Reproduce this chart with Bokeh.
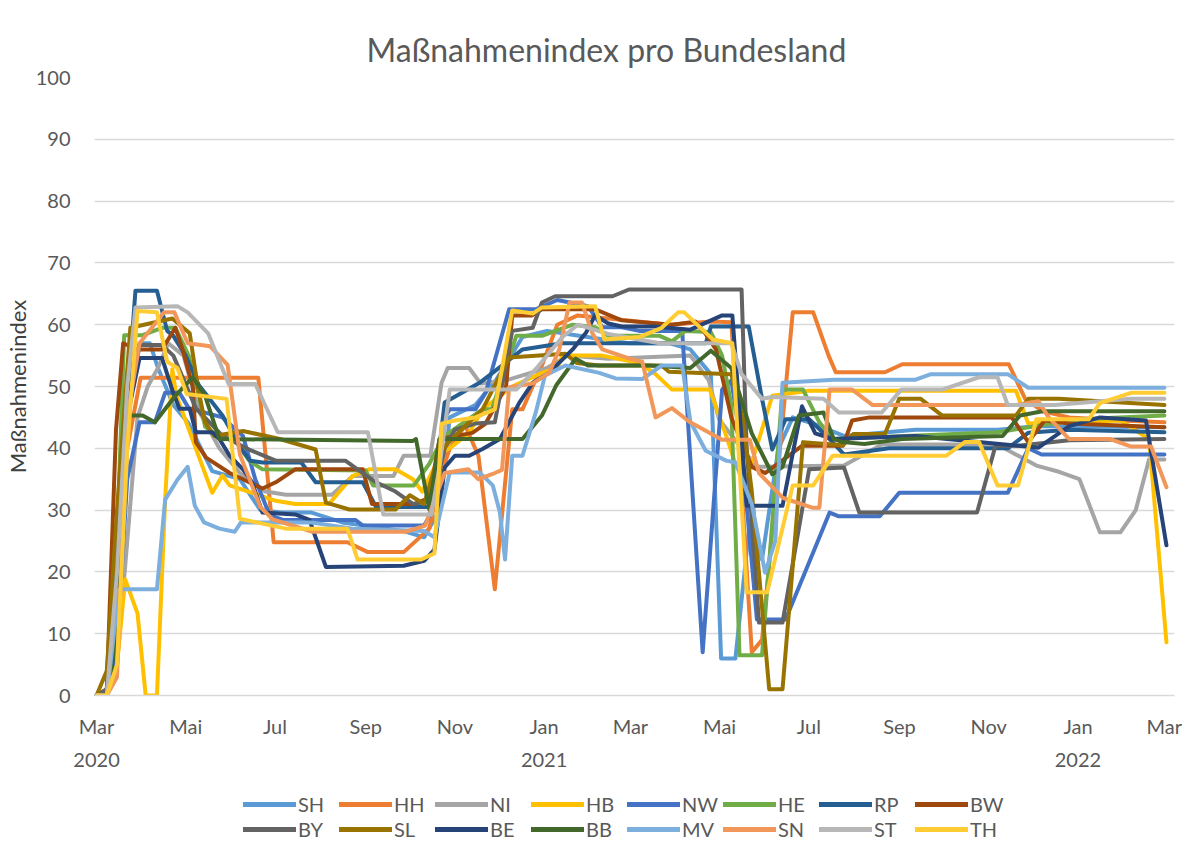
import numpy as np
import pandas as pd
from bokeh.plotting import figure
from bokeh.layouts import column
from bokeh.models import (Legend, LegendItem, FixedTicker, CustomJSTickFormatter,
                          Range1d, ColumnDataSource)
from bokeh.embed import file_html
from bokeh.resources import INLINE

# ---------------- data (week number since 2020-03-01, index value) ----------------
START = pd.Timestamp("2020-03-01")

names = ["SH", "HH", "NI", "HB", "NW", "HE", "RP", "BW",
         "BY", "SL", "BE", "BB", "MV", "SN", "ST", "TH"]
colors = ["#5B9BD5", "#ED7D31", "#A5A5A5", "#FFC000", "#4472C4", "#70AD47", "#255E91", "#9E480E",
          "#636363", "#997300", "#264478", "#43682B", "#7CAFDD", "#F1975A", "#B7B7B7", "#FFCD33"]

SH_w = [0, 1, 2, 3, 4.2, 5.2, 6, 7.5, 9, 11.3, 14, 16, 18, 21, 24, 30, 32, 33.5, 34.5, 37, 39, 41.6, 44, 46, 52, 56, 58, 60, 61, 62.4, 63.8, 65, 66.6, 68, 70, 73, 80, 88, 92, 104.3]
SH_v = [0, 0, 20, 50, 57, 57, 53, 47, 44, 36.3, 35, 30, 29.6, 29.6, 28, 26.6, 25.6, 30, 45, 47, 51, 58, 59, 58.5, 57, 57, 56, 52, 6, 6, 28, 22, 40, 45, 44, 42, 43, 43, 43.6, 43.4]

HH_w = [0, 1, 2, 3, 4.3, 15.8, 17.3, 24.5, 26.5, 30, 32.5, 33.5, 34.5, 36, 37.3, 38.9, 40.6, 41.6, 43.5, 45, 47, 50, 56, 60, 62, 64, 65, 68, 70, 71.5, 72.2, 77, 78.7, 89.1, 90.7, 92.4, 95, 100, 104.3]
HH_v = [0, 0, 10, 40, 51.4, 51.4, 24.8, 24.8, 23.2, 23.2, 27, 35, 40, 43.7, 38.8, 17.2, 46.3, 46.3, 53.4, 60, 61.5, 61, 60, 60.5, 60.4, 7, 9, 62, 62, 55, 52.3, 52.3, 53.6, 53.6, 48, 46, 45, 44.5, 44.2]

NI_w = [0, 1, 2, 3, 4, 5, 6, 7, 8.5, 10, 12, 14, 16.5, 18.5, 23, 25, 29, 30, 32.6, 33.7, 34.3, 36.4, 37.5, 40, 42, 44, 46, 50, 58, 59.8, 60.8, 63, 64.5, 73, 76.7, 88, 91.8, 94, 96, 98, 100, 101.5, 102.8, 104.3]
NI_v = [0, 0, 5, 25, 45, 50, 53, 57, 55, 46, 40, 36, 33, 32.5, 32.5, 35.5, 35.5, 38.8, 38.8, 50.6, 53, 53, 50.5, 51, 52, 53, 55, 54.5, 55, 51, 44.7, 40, 37, 37.2, 40.6, 40.6, 37.2, 36.2, 35, 26.4, 26.4, 30, 38.2, 38.2]

HB_w = [0, 1, 2, 2.8, 4, 4.8, 5.9, 6.7, 7.4, 7.8, 11.3, 12.3, 13, 17.5, 19.4, 22.7, 25, 26.6, 29.2, 30.9, 31.8, 33.8, 34.5, 36.4, 37.7, 40.6, 43.5, 45, 45.5, 49.4, 53, 54.6, 56.2, 59.9, 61.5, 62.5, 63.5, 66, 69.6, 89.8, 91, 100, 102.8, 104.5]
HB_v = [0, 0, 5, 18.8, 13.3, 0, 0, 31.7, 52.8, 48.5, 32.8, 35.6, 34, 31.5, 31, 31, 35.5, 36.6, 36.6, 35, 33, 39.5, 40, 42.5, 46.3, 50, 52.2, 53, 55, 55, 53.8, 52, 49.5, 49.5, 42, 37, 35, 48.5, 49.3, 49.3, 44, 44.5, 41.5, 8.6]

NW_w = [0, 1, 2, 3, 4.2, 5.7, 6.7, 8.1, 9, 12.3, 14.3, 15.5, 16.9, 18.2, 25.3, 26, 32, 32.5, 34, 34.5, 37, 38, 40.3, 42.9, 45, 48, 49.4, 51.3, 53, 57.2, 59.2, 61.1, 62, 63, 64.5, 67.3, 71.6, 72.5, 76.5, 78.4, 89, 91, 92.3, 104.3]
NW_v = [0, 0, 8, 35, 44.2, 44.2, 49, 49, 46.5, 45, 42, 35, 29.2, 28.4, 28.4, 27.5, 27.5, 29, 45, 46.3, 46.3, 49, 62.5, 62.5, 64, 63, 59.6, 59.6, 59, 59, 7, 49.5, 51, 40, 12.3, 12.3, 29.6, 29, 29, 32.8, 32.8, 40, 39, 39]

HE_w = [0, 1, 2, 2.7, 4.5, 6.4, 7.7, 9, 10, 10.6, 12, 13.3, 14.9, 16.2, 26.3, 27, 31, 32.5, 33.1, 34, 37.7, 38.6, 41, 43.5, 46.5, 48.7, 50, 55, 56.2, 57.5, 60, 61.1, 62, 62.8, 65, 67, 69, 70.6, 71.9, 79, 88, 96, 104.3]
HE_v = [0, 0, 25, 58.3, 58.3, 59.5, 59.5, 55, 48.5, 43.5, 41.8, 41.8, 38, 36.6, 36.4, 34, 34, 37.5, 39.4, 42, 46.3, 46.3, 58.2, 58.2, 60, 59.6, 58.2, 58.2, 57.3, 59, 58.8, 55, 47, 6.5, 6.5, 49.5, 49.5, 44.2, 41.5, 42, 42.6, 44.7, 45.3]

RP_w = [0, 1, 2, 3.8, 5.9, 6.9, 7.5, 8.7, 10, 12.3, 14.1, 15, 16.2, 20, 21.4, 26, 27.3, 32.8, 34, 37.5, 38.9, 41.6, 45.5, 59.5, 60, 63.7, 65, 66, 67.3, 69.6, 71.6, 73, 77.4, 89, 91, 95, 104.3]
RP_v = [0, 0, 25, 65.5, 65.5, 59, 58.2, 55, 50.2, 45.3, 40, 38, 37.7, 37.7, 34.5, 34.5, 30.5, 30.5, 47.4, 50.7, 52.5, 56, 57, 57, 59.7, 59.7, 48, 39.8, 44.7, 44.7, 41.5, 39, 40, 40, 42.5, 43, 42.6]

BW_w = [0, 1, 1.9, 2.6, 4, 6.4, 7.7, 8.4, 9.4, 9.7, 10.7, 13, 14.3, 16.2, 17.5, 19.4, 26, 26.9, 31.1, 32.5, 33.5, 36.7, 38, 40, 40.6, 42.5, 43.5, 48.7, 51.3, 56.2, 58.5, 59.4, 60.5, 62, 64, 65.3, 68.9, 72.9, 73.8, 75.5, 89.4, 91, 92.6, 95, 104.3]
BW_v = [0, 1, 43, 57, 56, 56, 59.5, 56, 50, 41, 38.5, 36, 35, 33.5, 34.5, 36.6, 36.6, 31, 31, 32, 41.5, 42.5, 44, 50, 61.5, 61.5, 62.5, 62.5, 60.7, 60, 60.5, 58.7, 56, 45, 37, 36, 40.4, 40.4, 44.5, 45, 45, 41, 44.5, 44, 43.4]

BY_w = [0, 1, 2, 3, 4.2, 6.4, 7.5, 9.7, 12.3, 14.9, 17.5, 24.3, 26, 27.3, 29.2, 30.9, 32.8, 34, 35, 37, 38.9, 40.6, 42.6, 43.5, 44.8, 50.4, 52, 63, 63.5, 64.7, 67, 69.6, 73, 74.5, 86, 87.8, 90, 95, 104.3]
BY_v = [0, 1, 15, 45, 56.7, 56.7, 55, 46.5, 42, 39.8, 38, 38, 36, 34.5, 33, 31, 31.5, 40, 43, 44, 44.2, 59, 59.5, 63.6, 64.6, 64.6, 65.7, 65.7, 40, 11.8, 11.8, 36.6, 36.9, 29.6, 29.6, 40.4, 40.4, 41.3, 41.5]

SL_w = [0, 1, 2, 3.3, 7.4, 9.1, 9.9, 10.6, 11.5, 14.3, 17.9, 21.4, 22.4, 24.7, 29.2, 30.6, 32, 33.5, 35, 37.7, 40.3, 45.8, 46.9, 49.1, 55.2, 55.9, 62, 63.1, 64, 65.7, 67, 69, 72.9, 73.9, 77, 78.4, 80.5, 82.6, 89.8, 91, 94, 98, 104.3]
SL_v = [0, 4, 30, 59.5, 61, 58.6, 49.8, 44.2, 42, 42.8, 41.5, 39.8, 31.2, 30.1, 30.1, 32.4, 31, 39.4, 42, 46.3, 54.7, 55.3, 53.8, 53.4, 53.4, 52.4, 52, 45, 33, 1, 1, 41, 40.5, 42.3, 42.3, 48, 48, 45.3, 45.3, 48, 48, 47.6, 47]

BE_w = [0, 1, 2, 3, 4.2, 6.4, 7.4, 8.1, 9.1, 9.7, 11.3, 12, 13, 14.3, 15.2, 16.2, 19.4, 20.8, 22.4, 30, 32, 33, 34, 35, 36.4, 37.7, 39.4, 41.3, 42.6, 44.2, 46.5, 47.8, 48.7, 50, 51.3, 54.5, 58, 61.1, 62.1, 63.5, 67, 68.9, 70.2, 71.9, 80, 92, 95, 98, 102.5, 104.5]
BE_v = [0, 0, 10, 45, 54.6, 54.6, 49.4, 46.4, 46.4, 42.6, 42.6, 41.5, 38.8, 36.6, 34.5, 29.6, 29.3, 28.4, 20.8, 21, 21.8, 23.6, 36.9, 38.8, 38.8, 39.9, 41.5, 47.4, 50.6, 52.2, 56, 58.7, 61.5, 60.2, 59.7, 59.7, 59.2, 61.5, 61.5, 30.7, 30.7, 46.8, 42.4, 41.5, 42, 40.1, 43.6, 45, 44.5, 24.3]

BB_w = [0, 1, 2, 2.8, 4.5, 5.7, 7.7, 9.4, 10.6, 12, 30.9, 31.2, 32.5, 33.5, 41.6, 43.5, 44.9, 46.8, 48, 54, 58, 60, 62, 64, 66, 67, 68.6, 71, 72, 72.9, 75, 78.7, 88.5, 90.2, 92.4, 104.3]
BB_v = [0, 0, 10, 45.3, 45.3, 44.2, 48.5, 51.5, 48.5, 41.5, 41.2, 41.5, 30.1, 41.5, 41.5, 45.3, 50.2, 54.5, 53.4, 53.4, 53, 55.8, 53, 42.4, 35.8, 37, 45.3, 45.8, 41.5, 41, 40.7, 41.5, 42, 45.3, 46, 46]

MV_w = [0, 1, 2.2, 5.9, 6.7, 7.9, 8.9, 9.6, 10.5, 12, 13.5, 14.1, 21, 25, 32, 33, 34.5, 37.4, 38.7, 39.4, 39.9, 40.6, 41.6, 42.9, 43.8, 45.8, 49.1, 50.7, 53.3, 55.2, 57.2, 58, 59.5, 61.5, 62.4, 64, 65.3, 66.3, 67, 72, 80, 81.5, 89, 91, 104.3]
MV_v = [0, 0, 17.2, 17.2, 31.7, 34.9, 37, 30.7, 28, 27, 26.5, 28, 28, 27, 26.6, 25.6, 36.1, 36.1, 34, 29.6, 22, 38.8, 38.8, 45.8, 51.8, 53.4, 52.2, 51.3, 51.2, 53.4, 53.4, 44.3, 39.6, 38, 37.7, 31, 19.9, 25, 50.6, 51.1, 51.1, 52, 52, 49.8, 49.8]

SN_w = [0, 1, 2, 3, 4.2, 6.6, 7.6, 8.9, 11.1, 12.8, 14, 16, 17.2, 21.1, 30.2, 32.1, 33.1, 34, 36.3, 37.3, 38.9, 39.6, 40.3, 42.6, 44.2, 45.2, 46.2, 47.4, 48.4, 49.4, 52.3, 53.3, 54.6, 56.2, 57.9, 61.1, 63.8, 64.7, 67, 69.9, 70.6, 71.6, 73.8, 75.8, 89.8, 92, 93, 95, 99, 101, 103, 104.5]
SN_v = [0, 0, 3, 45, 57, 62, 62, 57, 56.5, 53.5, 39, 30.5, 28.5, 26.5, 26.5, 27.5, 32, 36, 36.6, 35, 36, 36.5, 49.9, 50.5, 52.2, 56, 63.6, 63.6, 58.7, 56, 54.4, 54, 45, 46.5, 44.3, 41.4, 41.4, 36, 32, 30.4, 30.4, 49.5, 49.5, 47, 47, 47.6, 45, 41.5, 41.5, 40.3, 40.3, 33.7]

ST_w = [0, 1, 2, 3, 3.8, 7.9, 8.9, 10.9, 12.9, 15.5, 17.7, 26.5, 28, 32.7, 33.5, 34.5, 41, 43, 45.5, 47, 50, 55, 62, 63, 65, 66, 71, 72.5, 76.7, 78.6, 82.6, 86.2, 88, 89, 93.6, 98, 101, 104.3]
ST_v = [0, 0, 20, 50, 62.8, 63, 62, 58.6, 50.4, 50.4, 42.6, 42.6, 29.3, 29.3, 37, 49.5, 49.5, 53, 58, 60, 58.5, 57, 57, 52, 48, 48.3, 48, 45.8, 45.8, 49.5, 49.5, 51.5, 51.5, 47, 47, 47.6, 48, 48]

TH_w = [0, 1, 2, 3, 4, 5.9, 6.9, 7.9, 8.8, 12.7, 14, 18.5, 24.5, 25.5, 31.7, 33, 33.7, 35, 37, 38.9, 40.6, 42.6, 43.5, 48.7, 49.6, 53, 55.2, 56.8, 57.4, 60.2, 62.1, 63.5, 65.5, 68, 70, 71.9, 83, 84.8, 86.2, 88, 90, 91.8, 96.9, 98, 101.1, 104.3]
TH_v = [0, 0, 5, 40, 62.2, 62, 54, 53, 48.8, 48, 28.6, 27, 27, 22, 22, 23, 44, 44.5, 45, 46.3, 62.3, 61.8, 62.8, 63, 57.6, 58, 59.5, 62, 62, 57.6, 57, 16.7, 16.7, 34, 34, 38.8, 38.8, 41, 41, 34, 34, 44.7, 44.7, 47.3, 49, 49]

series = {
    "SH": (SH_w, SH_v), "HH": (HH_w, HH_v), "NI": (NI_w, NI_v), "HB": (HB_w, HB_v),
    "NW": (NW_w, NW_v), "HE": (HE_w, HE_v), "RP": (RP_w, RP_v), "BW": (BW_w, BW_v),
    "BY": (BY_w, BY_v), "SL": (SL_w, SL_v), "BE": (BE_w, BE_v), "BB": (BB_w, BB_v),
    "MV": (MV_w, MV_v), "SN": (SN_w, SN_v), "ST": (ST_w, ST_v), "TH": (TH_w, TH_v),
}

# ---------------- main chart ----------------
FONT = "Lato"
GREY_TXT = "#595959"

fig = figure(frame_width=1080, frame_height=618, x_axis_type="datetime",
             output_backend="svg", toolbar_location=None,
             x_range=Range1d(START - pd.Timedelta(days=1.4), START + pd.Timedelta(days=737)),
             y_range=Range1d(0, 100),
             min_border_left=84, min_border_right=20, min_border_top=77, min_border_bottom=76)

fig.title.text = "Maßnahmenindex pro Bundesland"
fig.title.align = "left"
fig.title.text_font = FONT
fig.title.text_font_size = "32px"
fig.title.text_font_style = "normal"
fig.title.text_color = GREY_TXT
fig.title.offset = 272
fig.title.standoff = 18

fig.outline_line_color = None
fig.background_fill_color = "white"
fig.border_fill_color = "white"

for name, col in zip(names, colors):
    w, v = series[name]
    dates = START + pd.to_timedelta(np.array(w) * 7.0, unit="D")
    src = ColumnDataSource(dict(x=dates, y=v))
    fig.line("x", "y", source=src, line_color=col, line_width=4,
             line_join="round", line_cap="round")

# y axis
fig.yaxis.ticker = FixedTicker(ticks=list(range(0, 101, 10)))
fig.ygrid.ticker = FixedTicker(ticks=list(range(0, 101, 10)))
fig.ygrid.grid_line_color = "#D9D9D9"
fig.ygrid.grid_line_width = 1.5
fig.xgrid.grid_line_color = None
fig.yaxis.axis_line_color = None
fig.yaxis.major_tick_line_color = None
fig.yaxis.minor_tick_line_color = None
fig.yaxis.major_label_text_font = FONT
fig.yaxis.major_label_text_font_size = "20px"
fig.yaxis.major_label_text_color = GREY_TXT
fig.yaxis.major_label_standoff = 18
fig.yaxis.axis_label = "Maßnahmenindex"
fig.yaxis.axis_label_text_font = FONT
fig.yaxis.axis_label_text_font_size = "22px"
fig.yaxis.axis_label_text_font_style = "normal"
fig.yaxis.axis_label_text_color = "#404040"
fig.yaxis.axis_label_standoff = 2

# x axis
month_ticks = pd.date_range("2020-03-01", "2022-03-01", freq="2MS")
fig.xaxis.ticker = FixedTicker(ticks=[t.value / 1e6 for t in month_ticks])
fig.xaxis.formatter = CustomJSTickFormatter(code="""
    const m = ["Jan","Feb","Mar","Apr","Mai","Jun","Jul","Aug","Sep","Okt","Nov","Dez"];
    const d = new Date(tick);
    const mo = d.getUTCMonth();
    if (index == 0 || mo == 0) { return m[mo] + "\\n" + d.getUTCFullYear(); }
    return m[mo];
""")
fig.xaxis.axis_line_color = "#D9D9D9"
fig.xaxis.axis_line_width = 1.5
fig.xaxis.major_tick_line_color = None
fig.xaxis.minor_tick_line_color = None
fig.xaxis.major_label_text_font = FONT
fig.xaxis.major_label_text_font_size = "20px"
fig.xaxis.major_label_text_color = GREY_TXT
fig.xaxis.major_label_standoff = 12
fig.xaxis.major_label_text_line_height = 1.4

# ---------------- legend strip ----------------
leg = figure(width=1184, height=70, output_backend="svg", toolbar_location=None,
             x_range=Range1d(0, 1), y_range=Range1d(0, 1),
             x_axis_location=None, y_axis_location=None,
             min_border_left=0, min_border_right=0, min_border_top=0, min_border_bottom=0)
leg.grid.visible = False
leg.outline_line_color = None
leg.border_fill_color = "white"

# legend keys only (drawn outside the visible range of the strip)
items = []
for name, col in zip(names, colors):
    r = leg.line(x=[-5, -4], y=[-5, -5], line_color=col, line_width=5, line_cap="round")
    items.append(LegendItem(label=name, renderers=[r]))

def make_legend(its, loc):
    return Legend(items=its, orientation="horizontal", location=loc,
                  label_text_font=FONT, label_text_font_size="20px",
                  label_text_color=GREY_TXT, glyph_width=53, glyph_height=16,
                  label_standoff=2, label_width=40, label_height=16, spacing=1, padding=1,
                  margin=0, border_line_color=None, background_fill_alpha=0)

leg.add_layout(make_legend(items[:8], (149, 28)), "center")
leg.add_layout(make_legend(items[8:], (149, 3)), "center")

p = column(fig, leg, spacing=0)

open("out.html", "w").write(file_html(p, INLINE))
